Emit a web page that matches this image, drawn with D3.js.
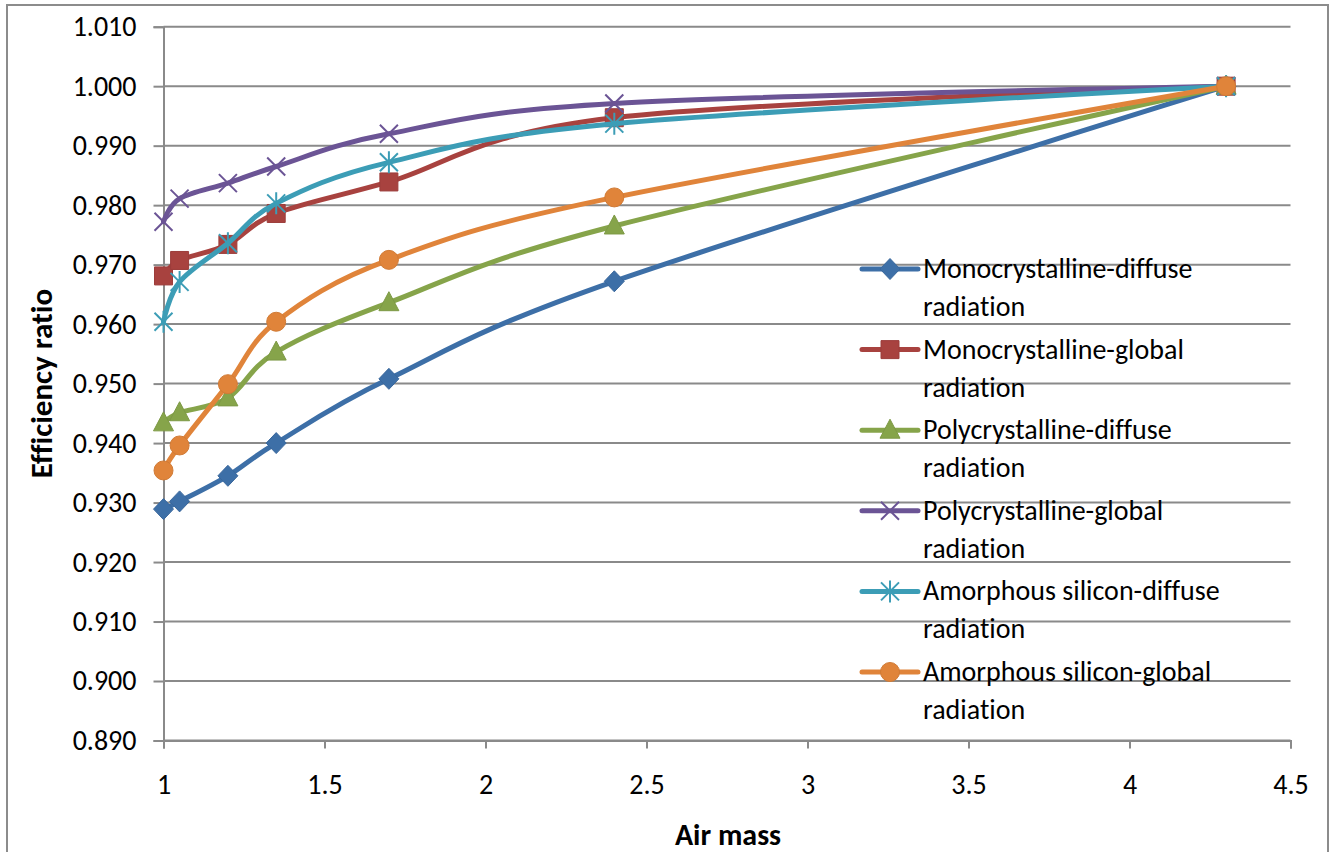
<!DOCTYPE html>
<html>
<head>
<meta charset="utf-8">
<script src="https://cdn.jsdelivr.net/npm/d3@7"></script>
<style>
  html, body { margin: 0; padding: 0; background: #fff; }
  svg { display: block; font-family: Carlito, Calibri, Lato, sans-serif; font-variant-ligatures: none; font-feature-settings: "liga" 0; }
</style>
</head>
<body>
<svg id="chart" width="1332" height="852"></svg>
<script>
// Air mass values shared by all series
const airMass = [1, 1.05, 1.2, 1.35, 1.7, 2.4, 4.3];

const monoDiffuse   = [0.9289, 0.9302, 0.9345, 0.9400, 0.9508, 0.9672, 1.0000];
const monoGlobal    = [0.9681, 0.9707, 0.9734, 0.9786, 0.9839, 0.9947, 1.0000];
const polyDiffuse   = [0.9434, 0.9451, 0.9476, 0.9553, 0.9636, 0.9765, 1.0000];
const polyGlobal    = [0.9772, 0.9811, 0.9837, 0.9865, 0.9920, 0.9971, 1.0000];
const amorphDiffuse = [0.9604, 0.9671, 0.9736, 0.9803, 0.9872, 0.9937, 1.0000];
const amorphGlobal  = [0.9354, 0.9396, 0.9499, 0.9604, 0.9708, 0.9813, 1.0000];

const seriesNames = [
  ["Monocrystalline-diffuse", "radiation"],
  ["Monocrystalline-global", "radiation"],
  ["Polycrystalline-diffuse", "radiation"],
  ["Polycrystalline-global", "radiation"],
  ["Amorphous silicon-diffuse", "radiation"],
  ["Amorphous silicon-global", "radiation"]
];
const seriesValues = [monoDiffuse, monoGlobal, polyDiffuse, polyGlobal, amorphDiffuse, amorphGlobal];
const seriesColors = ["#3d6fa7", "#a8423f", "#86a44a", "#6b5495", "#3c9db6", "#e0843a"];
const markerKinds  = ["diamond", "square", "triangle", "cross", "star", "circle"];

const xTicks = [1, 1.5, 2, 2.5, 3, 3.5, 4, 4.5];
const yTicks = d3.range(0, 13).map(i => +(0.89 + i * 0.01).toFixed(3));

const svg = d3.select("#chart");
const fontStack = "Carlito, Calibri, Lato, sans-serif";

// chart frame
svg.append("rect")
  .attr("x", 7).attr("y", 5).attr("width", 1321).attr("height", 860)
  .attr("fill", "#fff").attr("stroke", "#8c8c8c").attr("stroke-width", 2);

const x = d3.scaleLinear().domain([1, 4.5]).range([163.5, 1290.5]);
const y = d3.scaleLinear().domain([0.89, 1.01]).range([740.5, 26.7]);

const gridColor = "#8a8a8a";

// horizontal gridlines
svg.append("g")
  .selectAll("line")
  .data(yTicks)
  .join("line")
  .attr("x1", x(1)).attr("x2", x(4.5))
  .attr("y1", d => y(d)).attr("y2", d => y(d))
  .attr("stroke", gridColor).attr("stroke-width", 2);

// y axis
const yAxis = svg.append("g")
  .attr("transform", `translate(${x(1)},0)`)
  .call(d3.axisLeft(y).tickValues(yTicks).tickFormat(d3.format(".3f")).tickSize(10).tickPadding(17));
yAxis.select(".domain").attr("stroke", gridColor).attr("stroke-width", 2);
yAxis.selectAll(".tick line").attr("stroke", gridColor).attr("stroke-width", 2);
yAxis.selectAll(".tick text")
  .attr("font-size", 28).attr("fill", "#000").attr("font-family", fontStack);

// x axis
const xAxis = svg.append("g")
  .attr("transform", `translate(0,${y(0.89)})`)
  .call(d3.axisBottom(x).tickValues(xTicks).tickFormat(d3.format("")).tickSize(8).tickPadding(26));
xAxis.select(".domain").attr("stroke", gridColor).attr("stroke-width", 2);
xAxis.selectAll(".tick line").attr("stroke", gridColor).attr("stroke-width", 2);
xAxis.selectAll(".tick text")
  .attr("font-size", 28).attr("fill", "#000").attr("font-family", fontStack);

// axis titles
svg.append("text")
  .attr("transform", `translate(52,${(y(1.01) + y(0.89)) / 2}) rotate(-90)`)
  .attr("text-anchor", "middle")
  .attr("font-size", 31).attr("font-weight", "bold")
  .text("Efficiency ratio");

svg.append("text")
  .attr("x", 728).attr("y", 845)
  .attr("text-anchor", "middle")
  .attr("font-size", 30).attr("font-weight", "bold")
  .text("Air mass");

// marker outlines, centred on the data point
const markerPath = {
  diamond: "M0,-10.5L10,0L0,10.5L-10,0Z",
  square: "M-9,-9H9V9H-9Z",
  triangle: "M0,-11L10,8H-10Z",
  circle: "M9.5,0A9.5,9.5 0 1,1 -9.5,0A9.5,9.5 0 1,1 9.5,0Z",
  cross: "M-9,-9L9,9M-9,9L9,-9",
  star: "M-9,-9L9,9M-9,9L9,-9M0,-11V11"
};

function drawMarker(g, kind, color) {
  const p = g.append("path").attr("d", markerPath[kind]);
  if (kind === "cross" || kind === "star") {
    p.attr("fill", "none").attr("stroke", color).attr("stroke-width", 2);
  } else {
    p.attr("fill", color).attr("stroke", d3.color(color).darker(0.2)).attr("stroke-width", 1);
  }
}

const line = d3.line()
  .x(d => x(d[0]))
  .y(d => y(d[1]))
  .curve(d3.curveCardinal.tension(0));

const plot = svg.append("g");

seriesValues.forEach((vals, i) => {
  const pts = airMass.map((a, j) => [a, vals[j]]);
  const g = plot.append("g");
  g.append("path")
    .attr("d", line(pts))
    .attr("fill", "none")
    .attr("stroke", seriesColors[i])
    .attr("stroke-width", 5)
    .attr("stroke-linejoin", "round")
    .attr("stroke-linecap", "round");
  pts.forEach(p => {
    const m = g.append("g").attr("transform", `translate(${x(p[0])},${y(p[1])})`);
    drawMarker(m, markerKinds[i], seriesColors[i]);
  });
});

// legend
const legend = svg.append("g").attr("transform", "translate(862,269)");
seriesNames.forEach((name, i) => {
  const g = legend.append("g").attr("transform", `translate(0,${i * 80.6})`);
  g.append("line")
    .attr("x1", 0).attr("x2", 56).attr("y1", 0).attr("y2", 0)
    .attr("stroke", seriesColors[i]).attr("stroke-width", 5)
    .attr("stroke-linecap", "round");
  const m = g.append("g").attr("transform", "translate(28,0)");
  drawMarker(m, markerKinds[i], seriesColors[i]);
  const t = g.append("text")
    .attr("x", 61).attr("y", 9)
    .attr("font-size", 28).attr("fill", "#000");
  t.append("tspan").attr("x", 61).attr("dy", 0).text(name[0]);
  t.append("tspan").attr("x", 61).attr("dy", 38).text(name[1]);
});
</script>
</body>
</html>
